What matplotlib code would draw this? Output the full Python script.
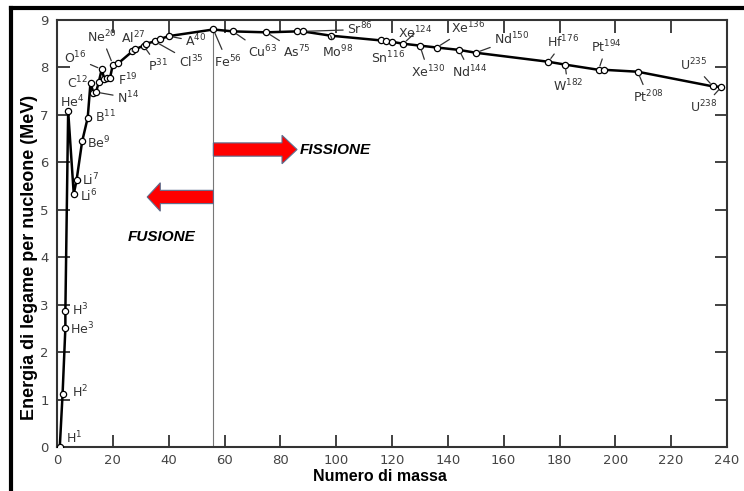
import matplotlib.pyplot as plt
from matplotlib.lines import Line2D
from matplotlib.patches import FancyArrow

plt.rcParams['mathtext.default'] = 'regular'

# curva dell'energia di legame per nucleone
mass = [1, 2, 3, 3, 4, 6, 7, 9, 11, 12, 13, 14, 15, 16, 17, 18, 19, 20, 22,
        27, 28, 31, 32, 35, 37, 40, 56, 63, 75, 86, 88, 98, 116, 118, 120,
        124, 130, 136, 144, 150, 176, 182, 194, 196, 208, 235, 238]
energy = [0.0, 1.12, 2.51, 2.87, 7.08, 5.33, 5.62, 6.44, 6.94, 7.68, 7.47,
          7.48, 7.70, 7.96, 7.75, 7.77, 7.78, 8.06, 8.09, 8.34, 8.38, 8.46,
          8.50, 8.55, 8.60, 8.66, 8.80, 8.76, 8.74, 8.76, 8.76, 8.67, 8.57,
          8.55, 8.54, 8.50, 8.46, 8.42, 8.37, 8.31, 8.12, 8.06, 7.95, 7.95,
          7.91, 7.60, 7.59]

# etichette: simbolo, numero di massa, indice del punto
lab_sym = ['H', 'H', 'H', 'He', 'He', 'Li', 'Li', 'Be', 'B', 'C', 'N', 'O',
           'F', 'Ne', 'Al', 'P', 'Cl', 'A', 'Fe', 'Cu', 'As', 'Sr', 'Mo',
           'Sn', 'Xe', 'Xe', 'Xe', 'Nd', 'Nd', 'Hf', 'W', 'Pt', 'Pt', 'U', 'U']
lab_num = [1, 2, 3, 3, 4, 6, 7, 9, 11, 12, 14, 16, 19, 20, 27, 31, 35, 40,
           56, 63, 75, 86, 98, 116, 124, 130, 136, 144, 150, 176, 182, 194,
           208, 235, 238]
lab_idx = [0, 1, 3, 2, 4, 5, 6, 7, 8, 9, 11, 13, 16, 17, 19, 21, 23, 25,
           26, 27, 28, 30, 31, 32, 35, 36, 37, 38, 39, 40, 41, 42, 44, 45, 46]

# posizione del testo e presenza della linea di richiamo
lab_pos = [(6, 0.18), (8.2, 1.16), (8.4, 2.89), (9.1, 2.49), (5.4, 7.28),
           (11.3, 5.28), (11.9, 5.63), (15, 6.41), (17.2, 6.96), (7.3, 7.68),
           (25.5, 7.36), (6.5, 8.2), (25.5, 7.74), (16, 8.65), (27.3, 8.63),
           (36.3, 8.02), (48, 8.12), (49.8, 8.55), (61, 8.12), (73.5, 8.33),
           (86, 8.33), (108.6, 8.8), (100.5, 8.33), (118.7, 8.2),
           (128.3, 8.73), (133, 7.91), (147.3, 8.84), (148, 7.91),
           (163, 8.59), (181.4, 8.54), (183, 7.6), (196.8, 8.44),
           (211.8, 7.38), (228, 8.06), (231.5, 7.17)]
lab_line = [False] * 10 + [True, True, False] + [True] * 10 + [False] + [True] * 11

fig = plt.figure(figsize=(7.44, 4.91), dpi=100)
ax = fig.add_axes([57 / 744, 44 / 491, 670 / 744, 427 / 491])

ax.plot(mass, energy, color='black', lw=1.8, marker='o', ms=4.5,
        mfc='white', mec='black', mew=0.9, zorder=3)

for sym, num, i, pos, line in zip(lab_sym, lab_num, lab_idx, lab_pos, lab_line):
    props = dict(arrowstyle='-', lw=0.9, color='#333333', shrinkA=1, shrinkB=3) if line else None
    ax.annotate(sym + '$^{' + str(num) + '}$', xy=(mass[i], energy[i]), xytext=pos,
                ha='center', va='center', fontsize=9, color='#333333',
                arrowprops=props, zorder=4)

# linea del ferro
ax.vlines(56, 0, energy[26], color='#777777', lw=0.8, zorder=2)

# frecce fissione / fusione
ax.add_patch(FancyArrow(56, 6.27, 30, 0, width=0.28, head_width=0.6,
                        head_length=5.4, length_includes_head=True,
                        fc='#ff0000', ec='#5b7090', lw=0.8, zorder=5))
ax.add_patch(FancyArrow(56, 5.27, -23.7, 0, width=0.28, head_width=0.6,
                        head_length=4.7, length_includes_head=True,
                        fc='#ff0000', ec='#5b7090', lw=0.8, zorder=5))
ax.text(87.1, 6.27, 'FISSIONE', ha='left', va='center', fontsize=11,
        fontweight='bold', style='italic', family='Liberation Sans')
ax.text(37.3, 4.43, 'FUSIONE', ha='center', va='center', fontsize=11,
        fontweight='bold', style='italic', family='Liberation Sans')

ax.set_xlim(0, 240)
ax.set_ylim(0, 9)
ax.set_xticks(range(0, 241, 20))
ax.set_yticks(range(0, 10))
ax.tick_params(direction='in', length=9, width=1.3, color='#333333',
               top=True, right=True, labelsize=9.5, labelcolor='#444444')
ax.tick_params(axis='x', pad=5)
ax.tick_params(axis='y', pad=6)
for s in ax.spines.values():
    s.set_linewidth(1.5)
    s.set_color('#333333')

ax.set_xlabel('Numero di massa', fontsize=11.5, fontweight='bold',
              family='Liberation Sans')
ax.set_ylabel('Energia di legame per nucleone (MeV)', fontsize=13,
              fontweight='bold', family='Liberation Sans')
ax.xaxis.set_label_coords(0.482, -0.052)
ax.yaxis.set_label_coords(-0.029, 0.445)

# bordo nero della figura (solo sopra e a sinistra)
fig.add_artist(Line2D([11 / 744, 1], [1 - 8 / 491, 1 - 8 / 491], color='black', lw=3))
fig.add_artist(Line2D([11 / 744, 11 / 744], [0, 1 - 8 / 491], color='black', lw=3))

fig.savefig('out.png', dpi=100, facecolor='white')
